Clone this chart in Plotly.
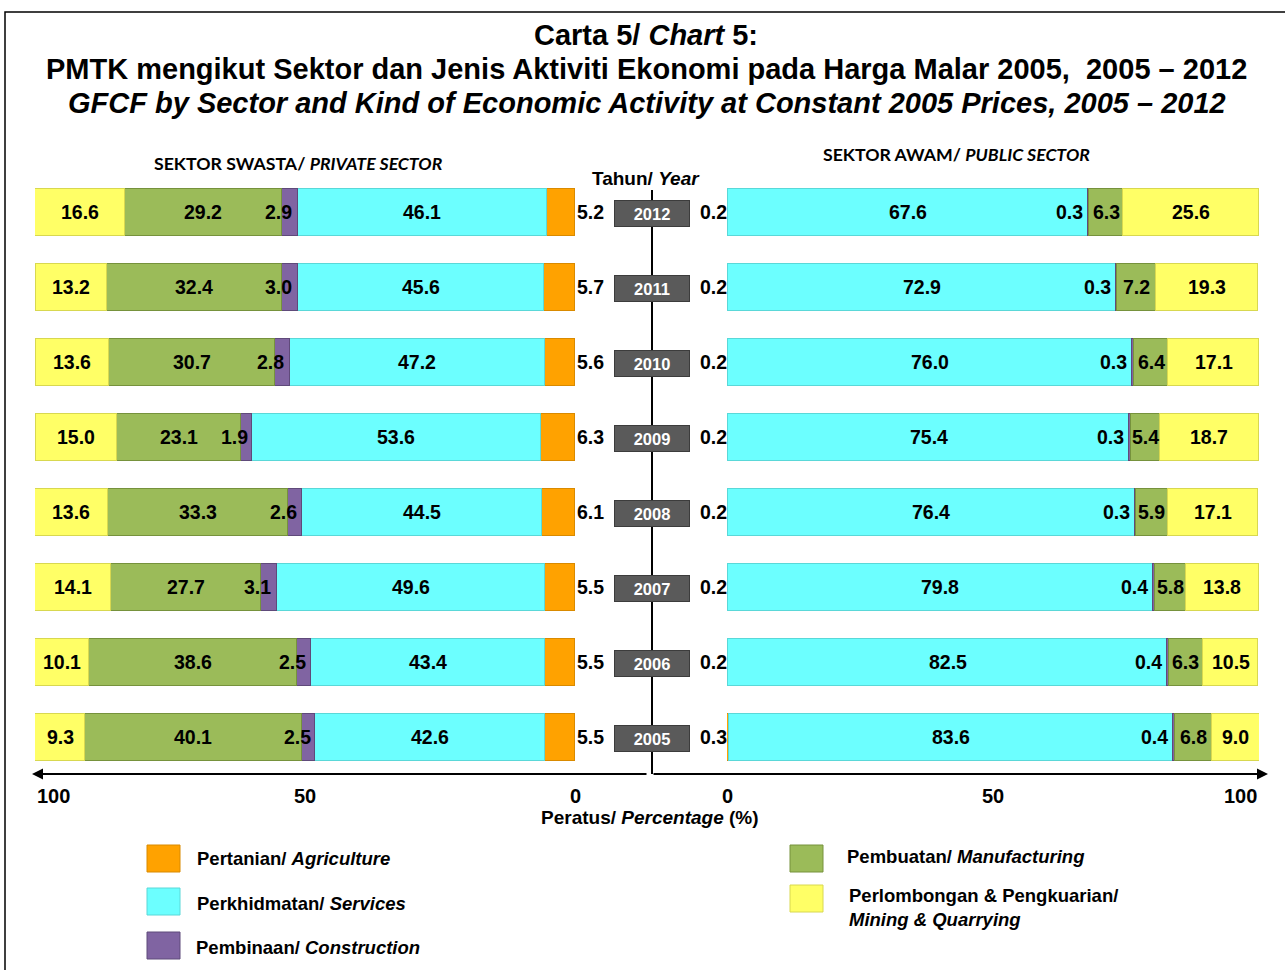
import plotly.graph_objects as go

years = [2012, 2011, 2010, 2009, 2008, 2007, 2006, 2005]

# Private sector (%)
priv_agri = [5.2, 5.7, 5.6, 6.3, 6.1, 5.5, 5.5, 5.5]
priv_serv = [46.1, 45.6, 47.2, 53.6, 44.5, 49.6, 43.4, 42.6]
priv_cons = [2.9, 3.0, 2.8, 1.9, 2.6, 3.1, 2.5, 2.5]
priv_manu = [29.2, 32.4, 30.7, 23.1, 33.3, 27.7, 38.6, 40.1]
priv_mine = [16.6, 13.2, 13.6, 15.0, 13.6, 14.1, 10.1, 9.3]

# Public sector (%)
pub_agri = [0.2, 0.2, 0.2, 0.2, 0.2, 0.2, 0.2, 0.3]
pub_serv = [67.6, 72.9, 76.0, 75.4, 76.4, 79.8, 82.5, 83.6]
pub_cons = [0.3, 0.3, 0.3, 0.3, 0.3, 0.4, 0.4, 0.4]
pub_manu = [6.3, 7.2, 6.4, 5.4, 5.9, 5.8, 6.3, 6.8]
pub_mine = [25.6, 19.3, 17.1, 18.7, 17.1, 13.8, 10.5, 9.0]

sectors = ["Agriculture", "Services", "Construction", "Manufacturing", "Mining"]
colors = {"Agriculture": "#FFA200", "Services": "#6CFFFF", "Construction": "#8064A2",
          "Manufacturing": "#9BBB59", "Mining": "#FFFF66"}
edge = {"Agriculture": "#D98A00", "Services": "#5AD8D8", "Construction": "#5F4A7A",
        "Manufacturing": "#76923C", "Mining": "#D8D850"}

W, H = 1285, 970
FONT = "Liberation Sans, Arial, sans-serif"

def px(x):
    return x / W

def py(y):
    return 1 - y / H

fig = go.Figure()
priv = dict(zip(sectors, [priv_agri, priv_serv, priv_cons, priv_manu, priv_mine]))
pub = dict(zip(sectors, [pub_agri, pub_serv, pub_cons, pub_manu, pub_mine]))

for s in sectors:
    fig.add_trace(go.Bar(y=years, x=priv[s], orientation="h", name=s, xaxis="x", yaxis="y",
                         marker=dict(color=colors[s], line=dict(color=edge[s], width=1)),
                         width=0.62, showlegend=False, hoverinfo="skip"))
for s in sectors:
    fig.add_trace(go.Bar(y=years, x=pub[s], orientation="h", name=s, xaxis="x2", yaxis="y",
                         marker=dict(color=colors[s], line=dict(color=edge[s], width=1)),
                         width=0.62, showlegend=False, hoverinfo="skip"))

ann = []
lab = dict(size=19.5, family=FONT, color="black")

def t(v):
    return "<b>%.1f</b>" % v

def A(**kw):
    kw.setdefault("showarrow", False)
    kw.setdefault("xanchor", "center")
    kw.setdefault("yanchor", "middle")
    ann.append(kw)

for i, yr in enumerate(years):
    # private
    a, sv, c, m, mi = priv_agri[i], priv_serv[i], priv_cons[i], priv_manu[i], priv_mine[i]
    A(x=0, y=yr, xref="x", yref="y", text=t(a), xanchor="left", xshift=0, font=lab)
    A(x=a + sv / 2, y=yr, xref="x", yref="y", text=t(sv), font=lab)
    A(x=a + sv + c / 2, y=yr, xref="x", yref="y", text=t(c), xanchor="right", xshift=4, font=lab)
    A(x=a + sv + c + m / 2, y=yr, xref="x", yref="y", text=t(m), font=lab)
    A(x=a + sv + c + m + mi / 2, y=yr, xref="x", yref="y", text=t(mi), font=lab)
    # public
    a, sv, c, m, mi = pub_agri[i], pub_serv[i], pub_cons[i], pub_manu[i], pub_mine[i]
    A(x=0, y=yr, xref="x2", yref="y", text=t(a), xanchor="right", xshift=2, font=lab)
    A(x=a + sv / 2, y=yr, xref="x2", yref="y", text=t(sv), font=lab)
    A(x=a + sv, y=yr, xref="x2", yref="y", text=t(c), xanchor="right", xshift=-3, font=lab)
    A(x=a + sv + c + m / 2, y=yr, xref="x2", yref="y", text=t(m), font=lab)
    A(x=a + sv + c + m + mi / 2, y=yr, xref="x2", yref="y", text=t(mi), font=lab)
    # year boxes
    A(x=px(652), y=yr, xref="paper", yref="y", text="<b>%d</b>" % yr,
      font=dict(size=16.5, family=FONT, color="white"), bgcolor="#5A5A5A",
      bordercolor="#3C3C3C", borderwidth=1, width=72, height=23, yshift=-1)

# axis tick labels
tick = dict(size=20, family=FONT, color="black")
for xr, v, anc in [("x", 100, "left"), ("x", 50, "center"), ("x", 0, "center"),
                   ("x2", 0, "center"), ("x2", 50, "center"), ("x2", 100, "right")]:
    A(x=v, y=py(796), xref=xr, yref="paper", text="<b>%d</b>" % v, xanchor=anc, font=tick)

A(x=px(650), y=py(817), xref="paper", yref="paper",
  text="<b>Peratus/ <i>Percentage</i> (%)</b>", font=dict(size=19, family=FONT, color="black"))

# axis arrows
for tip, off in [(1268, -616), (32, 616)]:
    ann.append(dict(x=px(tip), y=py(774), xref="paper", yref="paper", ax=off, ay=0, text="",
                    showarrow=True, arrowhead=2, arrowsize=1, arrowwidth=2.2, arrowcolor="black"))

# titles
tf = dict(family=FONT, color="black", size=29)
A(x=px(646), y=py(35), xref="paper", yref="paper", font=tf,
  text="<b>Carta 5/ <i>Chart</i> 5:</b>")
A(x=px(646), y=py(69), xref="paper", yref="paper", font=tf,
  text="<b>PMTK mengikut Sektor dan Jenis Aktiviti Ekonomi pada Harga Malar 2005,  2005 – 2012</b>")
A(x=px(647), y=py(103), xref="paper", yref="paper", font=tf,
  text="<b><i>GFCF by Sector and Kind of Economic Activity at Constant 2005 Prices, 2005 – 2012</i></b>")

hf = dict(family="Lato, Open Sans, sans-serif", size=17.7, color="black")
A(x=px(298), y=py(163), xref="paper", yref="paper", font=hf,
  text="<b>SEKTOR SWASTA/ <i>PRIVATE SECTOR</i></b>")
A(x=px(956), y=py(154), xref="paper", yref="paper", font=hf,
  text="<b>SEKTOR AWAM/ <i>PUBLIC SECTOR</i></b>")
A(x=px(646), y=py(178), xref="paper", yref="paper",
  font=dict(family=FONT, size=19, color="black"), text="<b>Tahun/ <i>Year</i></b>")

# legend
lf = dict(family=FONT, size=18.5, color="black")
shapes = []
legend_items = [
    ("Agriculture", 147, 845, 195, 858, "<b>Pertanian/ <i>Agriculture</i></b>"),
    ("Services", 147, 888, 195, 903, "<b>Perkhidmatan/ <i>Services</i></b>"),
    ("Construction", 147, 932, 194, 947, "<b>Pembinaan/ <i>Construction</i></b>"),
    ("Manufacturing", 790, 845, 845, 856, "<b>Pembuatan/ <i>Manufacturing</i></b>"),
    ("Mining", 790, 885, 847, 907, "<b>Perlombongan &amp; Pengkuarian/<br><i>Mining &amp; Quarrying</i></b>"),
]
for s, sx, sy, tx, ty, txt in legend_items:
    shapes.append(dict(type="rect", xref="paper", yref="paper", x0=px(sx), x1=px(sx + 33),
                       y0=py(sy + 27), y1=py(sy), fillcolor=colors[s], line=dict(color=edge[s], width=1)))
    A(x=px(tx), y=py(ty), xref="paper", yref="paper", xanchor="left", align="left",
      font=lf, text=txt)

# center vertical line
shapes.append(dict(type="line", xref="paper", yref="paper", x0=px(652), x1=px(652),
                   y0=py(190), y1=py(774), line=dict(color="black", width=2), layer="below"))
# outer frame
shapes.append(dict(type="rect", xref="paper", yref="paper", x0=px(5), x1=px(1295),
                   y0=py(985), y1=py(12), line=dict(color="black", width=1.5)))

fig.update_layout(
    width=W, height=H, margin=dict(l=0, r=0, t=0, b=0),
    paper_bgcolor="white", plot_bgcolor="rgba(0,0,0,0)",
    barmode="stack", bargap=0,
    xaxis=dict(domain=[px(35), px(575)], range=[100, 0], showgrid=False, zeroline=False,
               showticklabels=False, showline=False, anchor="y", fixedrange=True),
    xaxis2=dict(domain=[px(727), px(1259)], range=[0, 100], showgrid=False, zeroline=False,
                showticklabels=False, showline=False, anchor="y", fixedrange=True),
    yaxis=dict(domain=[py(774.5), py(174.5)], range=[2004.5, 2012.5], showgrid=False,
               zeroline=False, showticklabels=False, showline=False, fixedrange=True),
    annotations=ann, shapes=shapes, showlegend=False,
)

fig.write_html("out.html", config={"displayModeBar": False},
               post_script="document.body.style.margin='0';document.body.style.overflow='hidden';")
